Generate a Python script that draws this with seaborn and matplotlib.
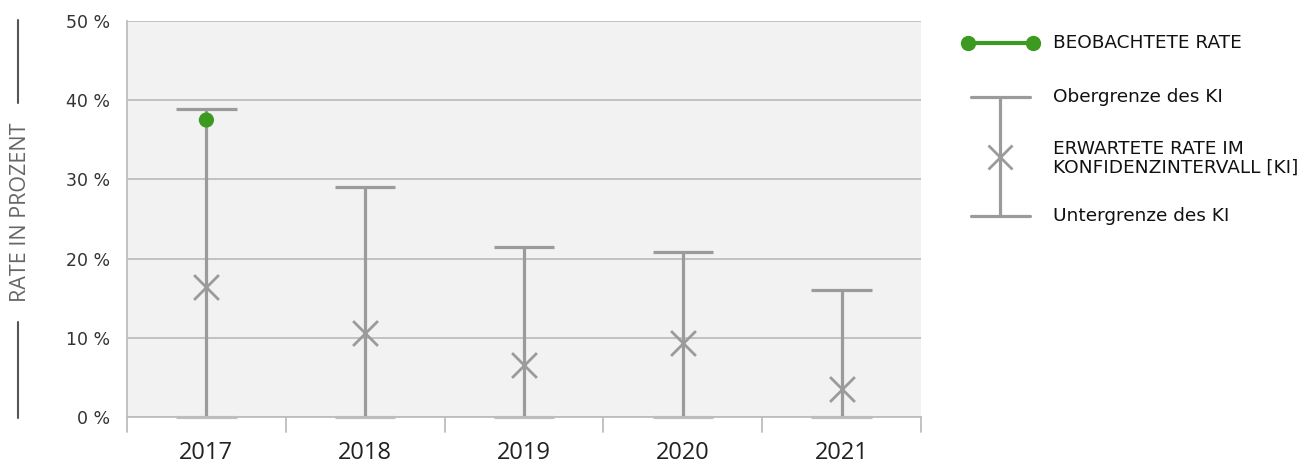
import matplotlib
matplotlib.use("Agg")
import matplotlib.pyplot as plt
import seaborn as sns
import pandas as pd
from matplotlib.lines import Line2D
from matplotlib.transforms import blended_transform_factory

years = ["2017", "2018", "2019", "2020", "2021"]
upper = [38.9, 29.0, 21.5, 20.8, 16.0]
lower = [0.0, 0.0, 0.0, 0.0, 0.0]
expected = [16.4, 10.6, 6.6, 9.3, 3.5]
observed_year = ["2017"]
observed = [37.5]
ytick_vals = [0, 10, 20, 30, 40, 50]
ytick_labels = ["0 %", "10 %", "20 %", "30 %", "40 %", "50 %"]

GRAY = "#9b9b9b"
GREEN = "#3d9a20"
LW = 2.3

sns.set_theme(style="white")
plt.rcParams['font.family'] = ['DejaVu Sans']

fig = plt.figure(figsize=(13.11, 4.62), dpi=100)
ax = fig.add_axes([127/1311, 1-417/462, (921-127)/1311, (417-21)/462])
ax.set_facecolor("#f2f2f2")

df = pd.DataFrame({"year": years, "upper": upper, "lower": lower, "expected": expected})
df["x"] = range(len(years))
obs = pd.DataFrame({"year": observed_year, "value": observed})
obs["x"] = [years.index(y) for y in observed_year]

# grid
for v in ytick_vals:
    ax.axhline(v, color="#bdbdbd", lw=1.3, zorder=0)

capw = 0.19
ax.vlines(df["x"], df["lower"], df["upper"], color=GRAY, lw=LW, zorder=2)
ax.hlines(df["upper"], df["x"] - capw, df["x"] + capw, color=GRAY, lw=LW, zorder=2)
ax.hlines(df["lower"], df["x"] - capw, df["x"] + capw, color="#c0c0c0", lw=LW, zorder=1.5,
          clip_on=False)

sns.scatterplot(data=df, x="x", y="expected", marker="x", s=320, color=GRAY,
                linewidth=2.0, ax=ax, zorder=3, legend=False)
sns.scatterplot(data=obs, x="x", y="value", marker="o", s=120, color=GREEN,
                edgecolor="none", ax=ax, zorder=4, legend=False)

ax.set_xlim(-0.5, len(years) - 0.5)
ax.set_ylim(0, 50)
ax.set_yticks(ytick_vals)
ax.set_yticklabels(ytick_labels, fontsize=12.5, color="#333333")
ax.set_xticks(range(len(years)))
ax.set_xticklabels(years, fontsize=17, color="#222222", family="Open Sans")
ax.tick_params(axis="x", length=0, pad=17)
ax.tick_params(axis="y", length=0, pad=12)
ax.set_xlabel("")
ax.set_ylabel("")
for s in ["top", "right"]:
    ax.spines[s].set_visible(False)
for s in ["left", "bottom"]:
    ax.spines[s].set_color("#bdbdbd")
    ax.spines[s].set_linewidth(1.3)
# category boundary ticks below axis
tr = blended_transform_factory(ax.transData, fig.transFigure)
for b in [i - 0.5 for i in range(len(years) + 1)]:
    ax.add_line(Line2D([b, b], [1-417/462, 1-432/462], transform=tr, color="#bdbdbd",
                       lw=1.3, clip_on=False))

# y label with decorative lines
fig.text(21/1311, 1-212/462, "RATE IN PROZENT", rotation=90, ha="center", va="center",
         fontsize=15.5, color="#666666", family="Open Sans", fontweight="medium")
fig.add_artist(Line2D([18/1311, 18/1311], [1-20/462, 1-103/462], color="#555555", lw=1.5))
fig.add_artist(Line2D([18/1311, 18/1311], [1-322/462, 1-418/462], color="#555555", lw=1.5))

# legend (custom)
def fx(p):
    return p / 1311
def fy(p):
    return 1 - p / 462
fig.add_artist(Line2D([fx(968), fx(1033)], [fy(43), fy(43)], color=GREEN, lw=3,
                      marker="o", markersize=10))
fig.text(fx(1053), fy(43), "BEOBACHTETE RATE", va="center", ha="left", fontsize=13.3, color="#111111")
fig.add_artist(Line2D([fx(971), fx(1030)], [fy(97), fy(97)], color=GRAY, lw=LW))
fig.add_artist(Line2D([fx(971), fx(1030)], [fy(216), fy(216)], color=GRAY, lw=LW))
fig.add_artist(Line2D([fx(1000), fx(1000)], [fy(97), fy(216)], color=GRAY, lw=LW))
fig.add_artist(Line2D([fx(1000)], [fy(157)], color=GRAY, marker="x", markersize=17,
                      markeredgewidth=2.0, lw=0))
fig.text(fx(1053), fy(97), "Obergrenze des KI", va="center", ha="left", fontsize=13.3, color="#111111")
fig.text(fx(1053), fy(158), "ERWARTETE RATE IM\nKONFIDENZINTERVALL [KI]", va="center", ha="left",
         fontsize=13.3, color="#111111", linespacing=1.05)
fig.text(fx(1053), fy(216), "Untergrenze des KI", va="center", ha="left", fontsize=13.3, color="#111111")

fig.savefig("out.png", dpi=100)
